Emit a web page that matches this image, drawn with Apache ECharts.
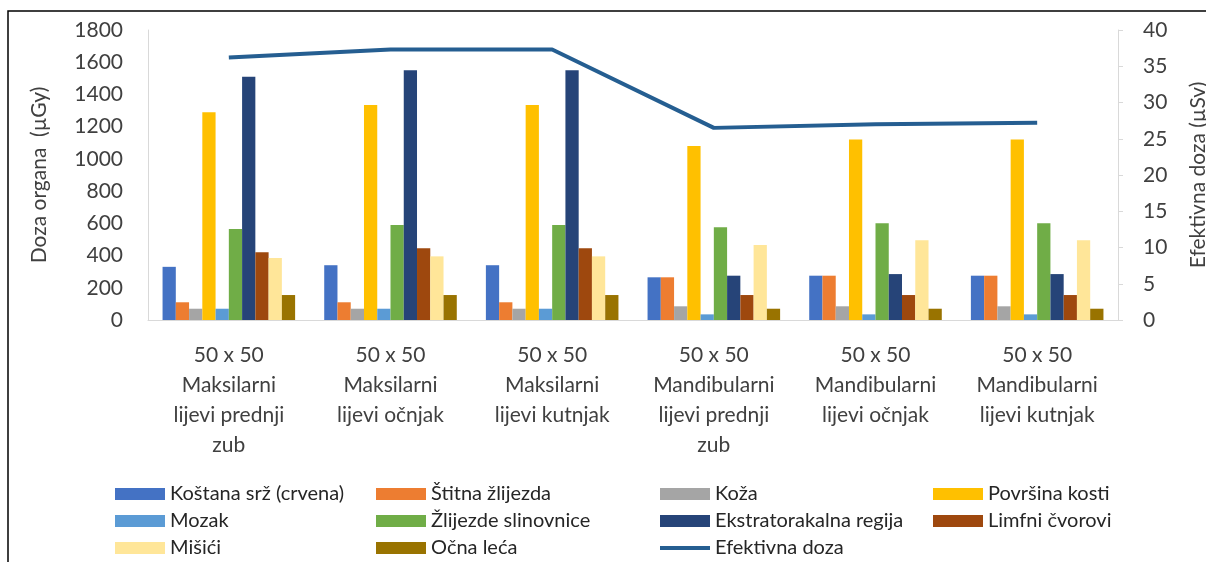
<!DOCTYPE html>
<html>
<head>
<meta charset="utf-8">
<script src="https://cdn.jsdelivr.net/npm/echarts@6/dist/echarts.min.js"></script>
<style>
  html, body { margin: 0; padding: 0; background: #fff; }
  #chart { width: 1206px; height: 562px; }
</style>
</head>
<body>
<div id="chart"></div>
<script>
// kategorije (x os)
const categories = [
    '50 x 50\nMaksilarni\nlijevi prednji\nzub',
    '50 x 50\nMaksilarni\nlijevi očnjak',
    '50 x 50\nMaksilarni\nlijevi kutnjak',
    '50 x 50\nMandibularni\nlijevi prednji\nzub',
    '50 x 50\nMandibularni\nlijevi očnjak',
    '50 x 50\nMandibularni\nlijevi kutnjak'
];

// doza organa (µGy)
const kostanaSrz = [330, 340, 340, 265, 275, 275];
const stitnaZlijezda = [110, 110, 110, 265, 275, 275];
const koza = [70, 70, 70, 85, 85, 85];
const povrsinaKosti = [1290, 1335, 1335, 1080, 1120, 1120];
const mozak = [70, 70, 70, 35, 35, 35];
const slinovnice = [565, 590, 590, 575, 600, 600];
const ekstratorakalna = [1510, 1550, 1550, 275, 285, 285];
const limfniCvorovi = [420, 445, 445, 155, 155, 155];
const misici = [385, 395, 395, 465, 495, 495];
const ocnaLeca = [155, 155, 155, 70, 70, 70];

// efektivna doza (µSv)
const efektivnaDoza = [36.2, 37.3, 37.3, 26.5, 27.0, 27.2];

const leftTicks = { min: 0, max: 1800, interval: 200 };
const rightTicks = { min: 0, max: 40, interval: 5 };

const FONT = 'Lato';
const TXT = '#404040';
const FS = 21;

const barSeries = [
    ['Koštana srž (crvena)', kostanaSrz, '#4472C4'],
    ['Štitna žlijezda', stitnaZlijezda, '#ED7D31'],
    ['Koža', koza, '#A5A5A5'],
    ['Površina kosti', povrsinaKosti, '#FFC000'],
    ['Mozak', mozak, '#5B9BD5'],
    ['Žlijezde slinovnice', slinovnice, '#70AD47'],
    ['Ekstratorakalna regija', ekstratorakalna, '#264478'],
    ['Limfni čvorovi', limfniCvorovi, '#9E480E'],
    ['Mišići', misici, '#FFE699'],
    ['Očna leća', ocnaLeca, '#997300']
];

const series = barSeries.map(function (s) {
    return {
        name: s[0],
        type: 'bar',
        data: s[1],
        itemStyle: { color: s[2] },
        barGap: 0,
        barCategoryGap: '18%'
    };
});
series.push({
    name: 'Efektivna doza',
    type: 'line',
    yAxisIndex: 1,
    data: efektivnaDoza,
    symbol: 'none',
    z: 5,
    lineStyle: { color: '#255E91', width: 4 },
    itemStyle: { color: '#255E91' }
});

function legendCol(left, names) {
    return {
        orient: 'vertical',
        left: left,
        top: 479,
        height: 120,
        itemWidth: 50,
        itemHeight: 12,
        itemGap: 7,
        selectedMode: false,
        textStyle: { fontFamily: FONT, fontSize: 20, color: '#262626', lineHeight: 20 },
        data: names.map(function (n) {
            return n === 'Efektivna doza'
                ? { name: n, icon: 'path://M0,0H50V4H0Z' }
                : { name: n, icon: 'rect' };
        })
    };
}

const chart = echarts.init(document.getElementById('chart'));
chart.setOption({
    animation: false,
    backgroundColor: '#fff',
    textStyle: { fontFamily: FONT },
    grid: { left: 148, right: 88, top: 30, bottom: 242, outerBoundsMode: 'none', containLabel: false },
    graphic: [{
        type: 'rect',
        shape: { x: 8, y: 11, width: 1400, height: 800 },
        style: { fill: null, stroke: '#000', lineWidth: 1.5 },
        silent: true
    }],
    legend: [
        legendCol(110, ['Koštana srž (crvena)', 'Mozak', 'Mišići']),
        legendCol(371, ['Štitna žlijezda', 'Žlijezde slinovnice', 'Očna leća']),
        legendCol(655, ['Koža', 'Ekstratorakalna regija', 'Efektivna doza']),
        legendCol(928, ['Površina kosti', 'Limfni čvorovi'])
    ],
    xAxis: {
        type: 'category',
        data: categories,
        axisLine: { lineStyle: { color: '#D9D9D9' } },
        axisTick: { show: false },
        axisLabel: {
            interval: 0,
            margin: 20,
            fontSize: FS,
            lineHeight: 30,
            color: TXT,
            fontFamily: FONT
        }
    },
    yAxis: [{
        type: 'value',
        min: leftTicks.min,
        max: leftTicks.max,
        interval: leftTicks.interval,
        name: 'Doza organa  (µGy)',
        nameLocation: 'middle',
        nameRotate: 90,
        nameGap: 98,
        nameTextStyle: { fontSize: FS, color: TXT, fontFamily: FONT },
        axisLine: { show: true, lineStyle: { color: '#D9D9D9' } },
        axisTick: { show: false },
        splitLine: { show: false },
        axisLabel: {
            fontSize: FS, color: TXT, margin: 25, fontFamily: FONT,
            formatter: function (v) { return String(v); }
        }
    }, {
        type: 'value',
        position: 'right',
        min: rightTicks.min,
        max: rightTicks.max,
        interval: rightTicks.interval,
        name: 'Efektivna doza (µSv)',
        nameLocation: 'middle',
        nameRotate: 90,
        nameGap: 70,
        nameTextStyle: { fontSize: FS, color: TXT, fontFamily: FONT },
        axisLine: { show: true, lineStyle: { color: '#D9D9D9' } },
        axisTick: { show: true, length: 5, lineStyle: { color: '#D9D9D9' } },
        splitLine: { show: false },
        axisLabel: { fontSize: FS, color: TXT, margin: 25, fontFamily: FONT }
    }],
    series: series
});
</script>
</body>
</html>
